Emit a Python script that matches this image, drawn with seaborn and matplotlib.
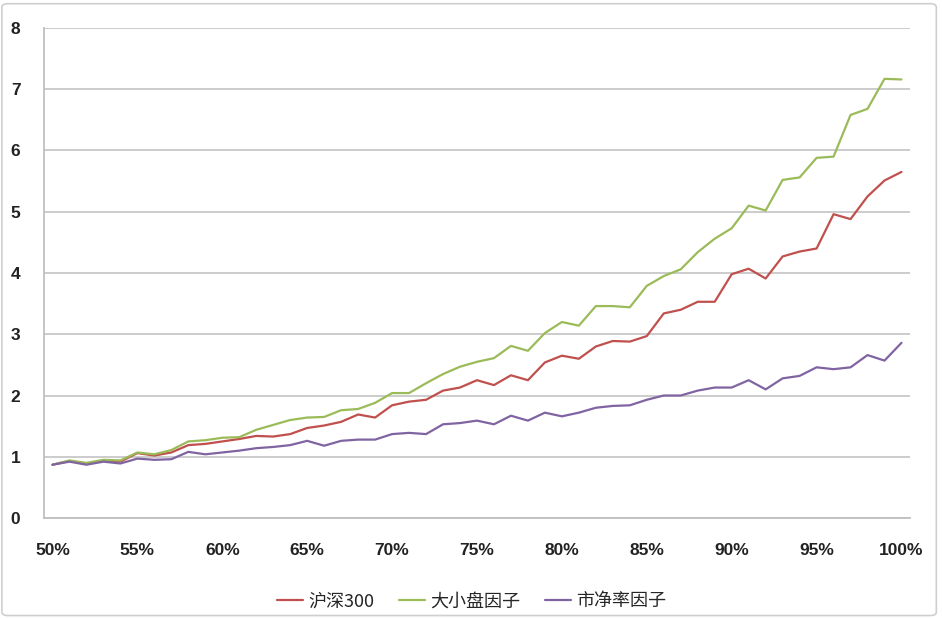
import pandas as pd
import matplotlib.pyplot as plt
import matplotlib.patches as patches
import seaborn as sns

# x positions: 50% .. 100% in 1% steps
pct = list(range(50, 101))

hs300 = [0.87, 0.93, 0.89, 0.94, 0.92, 1.06, 1.02, 1.07, 1.19, 1.21,
         1.25, 1.29, 1.34, 1.33, 1.37, 1.47, 1.51, 1.57, 1.69, 1.64,
         1.84, 1.90, 1.93, 2.08, 2.13, 2.25, 2.17, 2.33, 2.25, 2.54,
         2.65, 2.60, 2.80, 2.89, 2.88, 2.97, 3.34, 3.40, 3.53, 3.53,
         3.98, 4.07, 3.91, 4.27, 4.35, 4.40, 4.96, 4.88, 5.25, 5.51, 5.65]

size_factor = [0.87, 0.94, 0.90, 0.95, 0.94, 1.07, 1.04, 1.11, 1.25, 1.27,
               1.31, 1.32, 1.44, 1.52, 1.60, 1.64, 1.65, 1.76, 1.78, 1.88,
               2.04, 2.04, 2.20, 2.35, 2.47, 2.55, 2.61, 2.81, 2.73, 3.02,
               3.20, 3.14, 3.46, 3.46, 3.44, 3.79, 3.95, 4.06, 4.34, 4.56,
               4.73, 5.10, 5.02, 5.52, 5.56, 5.88, 5.90, 6.58, 6.68, 7.17, 7.16]

pb_factor = [0.87, 0.92, 0.87, 0.92, 0.89, 0.97, 0.95, 0.96, 1.08, 1.04,
             1.07, 1.10, 1.14, 1.16, 1.19, 1.26, 1.18, 1.26, 1.28, 1.28,
             1.37, 1.39, 1.37, 1.53, 1.55, 1.59, 1.53, 1.67, 1.59, 1.72,
             1.66, 1.72, 1.80, 1.83, 1.84, 1.93, 2.00, 2.00, 2.08, 2.13,
             2.13, 2.25, 2.10, 2.28, 2.32, 2.46, 2.43, 2.46, 2.66, 2.57, 2.86]

series_names = ['沪深300', '大小盘因子', '市净率因子']
colors = ['#C0504D', '#9BBB59', '#8064A2']
xtick_vals = list(range(50, 101, 5))
xtick_labels = [f'{v}%' for v in xtick_vals]
ytick_vals = list(range(0, 9))

df = pd.concat([
    pd.DataFrame({'pct': pct, 'value': vals, 'series': name})
    for name, vals in zip(series_names, [hs300, size_factor, pb_factor])
])

sns.set_style('white')
plt.rcParams['font.family'] = ['Liberation Sans', 'Noto Sans CJK SC', 'DejaVu Sans']

fig = plt.figure(figsize=(9.42, 6.18), dpi=100)
ax = fig.add_axes([0.0467, 0.1618, 0.9193, 0.7929])

sns.lineplot(data=df, x='pct', y='value', hue='series', hue_order=series_names,
             palette=colors, linewidth=1.6, ax=ax)

ax.set_xlim(49.5, 100.5)
ax.set_ylim(0, 8)
ax.set_xticks(xtick_vals)
ax.set_xticklabels(xtick_labels, fontsize=12.5, fontweight='bold', color='#222222')
ax.set_xticks([v - 0.5 for v in xtick_vals], minor=True)
ax.set_yticks(ytick_vals)
ax.set_yticklabels([str(v) for v in ytick_vals], fontsize=12.5, fontweight='bold', color='#222222')
ax.tick_params(axis='x', which='major', length=0, pad=18)
ax.tick_params(axis='x', which='minor', length=6, color='#bfbfbf', width=1.2)
ax.tick_params(axis='y', length=7, color='#bfbfbf', width=1.2, pad=10)
ax.set_xlabel('')
ax.set_ylabel('')
ax.yaxis.grid(True, color='#c8c8c8', linewidth=1.3)
ax.set_axisbelow(True)
for side in ['top', 'right']:
    ax.spines[side].set_visible(False)
for side in ['left', 'bottom']:
    ax.spines[side].set_color('#bfbfbf')
    ax.spines[side].set_linewidth(1.3)

ax.legend(loc='center', bbox_to_anchor=(0.494, -0.17), ncol=3, frameon=False,
          prop={'family': ['Noto Sans CJK SC', 'DejaVu Sans'], 'size': 13},
          handlelength=1.4, columnspacing=1.4, handletextpad=0.3)

# light outer border like the original chart area
fig.patches.append(patches.FancyBboxPatch((0.002, 0.004), 0.992, 0.99,
                                          boxstyle='round,pad=0,rounding_size=0.006',
                                          transform=fig.transFigure, fill=False,
                                          edgecolor='#cfcfcf', linewidth=1.2))

fig.savefig('out.png', dpi=100)
